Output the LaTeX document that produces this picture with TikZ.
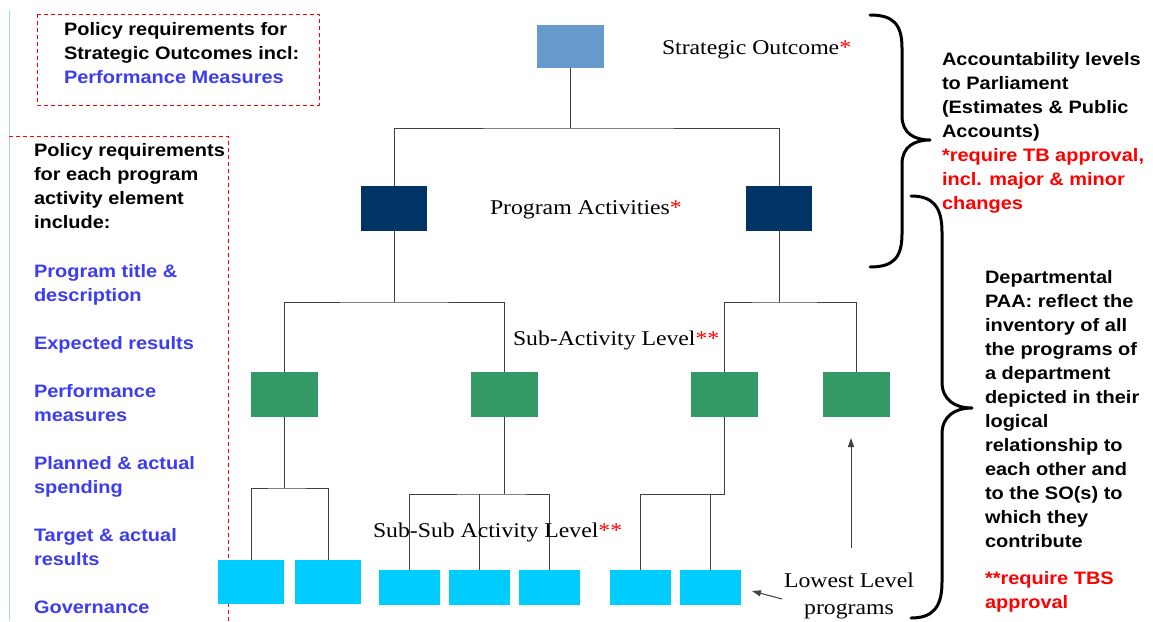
\documentclass[tikz,border=0pt]{standalone}
\usepackage{fontspec}
\usetikzlibrary{arrows.meta}
\newfontfamily\notesans[FakeStretch=1.11]{Liberation Sans}
\newfontfamily\levelserif[FakeStretch=1.13]{Liberation Serif}
\definecolor{soblue}{HTML}{6699CC}
\definecolor{panavy}{HTML}{003366}
\definecolor{subgreen}{HTML}{339966}
\definecolor{leafcyan}{HTML}{00CCFF}
\definecolor{listblue}{HTML}{3C3CF0}
\definecolor{linkgray}{HTML}{404040}
\definecolor{edgeblue}{HTML}{A8D0E8}
\newcommand\linesl[1]{\begin{tabular}[t]{@{}l@{}}#1\end{tabular}}
\newcommand\linesc[1]{\begin{tabular}[t]{@{}c@{}}#1\end{tabular}}
\tikzset{
  every node/.style={inner sep=0pt, outer sep=0pt},
  sobox/.style={fill=soblue, minimum width=67pt, minimum height=43pt},
  pabox/.style={fill=panavy, minimum width=66pt, minimum height=45pt},
  subbox/.style={fill=subgreen, minimum width=67pt, minimum height=45pt},
  leafbig/.style={fill=leafcyan, minimum width=66pt, minimum height=44pt},
  leafbox/.style={fill=leafcyan, minimum width=61pt, minimum height=35pt},
  link/.style={draw=linkgray, line width=1pt},
  pointer/.style={link, -{Triangle[length=9pt,width=6pt]}},
  note/.style={font=\notesans\bfseries\fontsize{18}{24}\selectfont, anchor=base west},
  levellabel/.style={font=\levelserif\fontsize{21}{27}\selectfont, anchor=base west},
  brace/.style={draw=black, line width=3pt, line cap=round, line join=round},
  reqframe/.style={draw=red, line width=1pt, dash pattern=on 4pt off 3pt}
}
\begin{document}
\begin{tikzpicture}[x=1pt,y=-1pt]
\useasboundingbox[fill=white] (0,0) rectangle (1153,621);

% page edge and dashed requirement frames
\draw[edgeblue, line width=1pt] (9,10) -- (9,621);
\draw[reqframe] (37,14) rectangle (319,105);
\draw[reqframe] (9,136) -- (228,136) -- (228,621);

% hierarchy boxes
\node[sobox] (so) at (570.5,46.5) {};
\node[pabox] (pa1) at (394,208.5) {};
\node[pabox] (pa2) at (779,208.5) {};
\node[subbox] (s1) at (284,394.5) {};
\node[subbox] (s2) at (504,394.5) {};
\node[subbox] (s3) at (724.5,394.5) {};
\node[subbox] (s4) at (856.5,394.5) {};
\node[leafbig] (l1) at (251,582) {};
\node[leafbig] (l2) at (328,582) {};
\node[leafbox] (l3) at (409,587.5) {};
\node[leafbox] (l4) at (479.5,587.5) {};
\node[leafbox] (l5) at (549.5,587.5) {};
\node[leafbox] (l6) at (640,587.5) {};
\node[leafbox] (l7) at (710,587.5) {};

% tree connectors
\coordinate (b0) at (570.5,128);
\draw[link] (so.south) -- (b0);
\draw[link] (pa1.north) |- (b0) -| (pa2.north);
\coordinate (b1) at (394,302);
\draw[link] (pa1.south) -- (b1);
\draw[link] (s1.north) |- (b1) -| (s2.north);
\coordinate (b2) at (779,302);
\draw[link] (pa2.south) -- (b2);
\draw[link] (s3.north) |- (b2) -| (s4.north);
\coordinate (b3) at (284,488);
\draw[link] (s1.south) -- (b3);
\draw[link] (l1.north) |- (b3) -| (l2.north);
\coordinate (b4) at (504,494);
\draw[link] (s2.south) -- (b4);
\draw[link] (l3.north) |- (b4) -| (l5.north);
\draw[link] (l4.north) -- (l4.north |- b4);
\coordinate (b5) at (724.5,494);
\draw[link] (s3.south) -- (b5);
\draw[link] (l6.north) |- (b5);
\draw[link] (l7.north) -- (l7.north |- b5);

% level labels
\node[levellabel] (lso) at (662,54) {Strategic Outcome\textcolor{red}{*}};
\node[levellabel] (lpa) at (490,214) {Program Activities\textcolor{red}{*}};
\node[levellabel] (lsub) at (513,345) {Sub-Activity Level\textcolor{red}{**}};
\node[levellabel] (lsubsub) at (373,537) {Sub-Sub Activity Level\textcolor{red}{**}};
\node[font=\levelserif\fontsize{21}{27}\selectfont, anchor=base] (low) at (849,587) {\linesc{Lowest Level\\programs}};

% pointers
\coordinate (uptail) at (851,548);
\coordinate (uptip) at (851,438);
\draw[pointer] (uptail) -- (uptip);
\coordinate (lowtail) at (782,599);
\coordinate (lowtip) at (752,591);
\draw[pointer] (lowtail) -- (lowtip);

% requirement notes
\node[note] (sohead) at (64,35) {\linesl{Policy requirements for\\Strategic Outcomes incl:}};
\node[note, text=listblue] (sopm) at (64,83) {Performance Measures};
\node[note] (pahead) at (34,156) {\linesl{Policy requirements\\for each program\\activity element\\include:}};
\node[note, text=listblue] (palist) at (34,277) {\linesl{Program title \&\\description\\[24pt]Expected results\\[24pt]Performance\\measures\\[24pt]Planned \& actual\\spending\\[24pt]Target \& actual\\results\\[24pt]Governance}};

% braces and their notes
\draw[brace] (870,15) .. controls (893,15) and (902,24) .. (902,48) -- (902,116)
  .. controls (902,133) and (914,140) .. (930,140)
  .. controls (914,140) and (902,147) .. (902,164) -- (902,234)
  .. controls (902,258) and (893,267) .. (870,267);
\draw[brace] (911,196) .. controls (933,196) and (942,207) .. (942,232) -- (942,382)
  .. controls (942,400) and (955,408) .. (972,408)
  .. controls (955,408) and (942,416) .. (942,434) -- (942,582)
  .. controls (942,607) and (933,618) .. (911,618);
\node[note] (acc) at (942,65) {\linesl{Accountability levels\\to Parliament\\(Estimates \& Public\\Accounts)}};
\node[note, text=red] (tb) at (942,161) {\linesl{*require TB approval,\\incl. major \& minor\\changes}};
\node[note] (paa) at (985,283) {\linesl{Departmental\\PAA: reflect the\\inventory of all\\the programs of\\a department\\depicted in their\\logical\\relationship to\\each other and\\to the SO(s) to\\which they\\contribute}};
\node[note, text=red] (tbs) at (985,584) {\linesl{**require TBS\\approval}};
\end{tikzpicture}
\end{document}
